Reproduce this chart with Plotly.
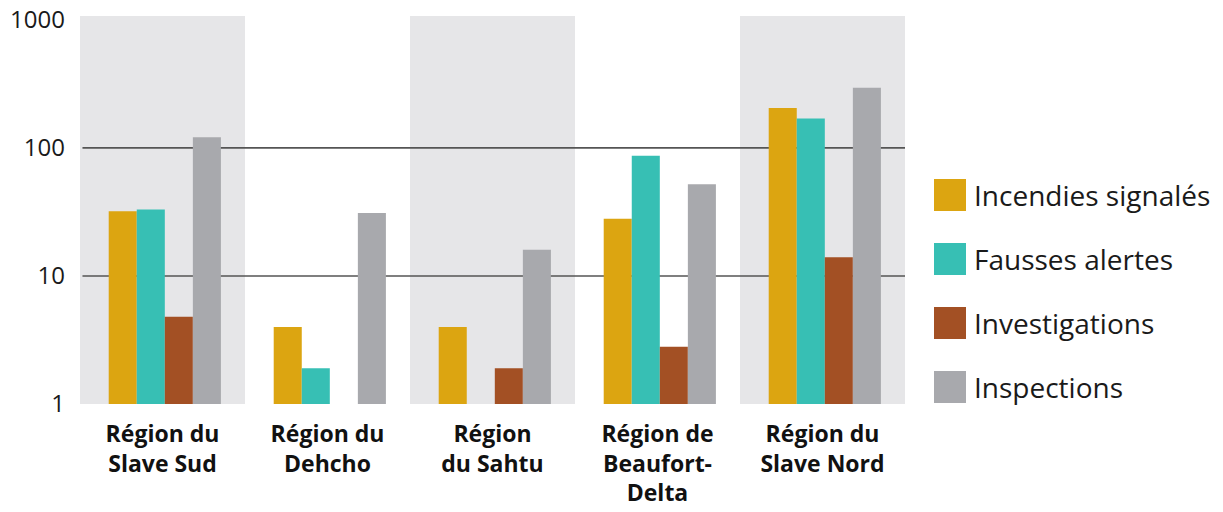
import plotly.graph_objects as go

# regions (x categories) and the four series
regions = [
    "Région du<br>Slave Sud",
    "Région du<br>Dehcho",
    "Région<br>du Sahtu",
    "Région de<br>Beaufort-<br>Delta",
    "Région du<br>Slave Nord",
]
series_names = ["Incendies signalés", "Fausses alertes", "Investigations", "Inspections"]
incendies = [32, 4, 4, 28, 205]
fausses_alertes = [33, 1.9, None, 87, 170]
investigations = [4.8, None, 1.9, 2.8, 14]
inspections = [121, 31, 16, 52, 295]
colors = ["#DCA511", "#37BFB4", "#A35024", "#A8A9AD"]

y_ticks = [1, 10, 100, 1000]
grid_at = [10, 100]

FONT = "Open Sans"
W, H = 1223, 512
# plot box on screen: x 80..905, y 16..404
L, T = 80, 16
PW, PH = 825, 388
R = W - L - PW
B = H - T - PH

BAR_W = 0.17
FIRST = -0.326


def px(x):
    return (x - L) / PW


def py(y):
    return (T + PH - y) / PH


fig = go.Figure()
for k, (name, vals, col) in enumerate(zip(series_names,
                                          [incendies, fausses_alertes, investigations, inspections],
                                          colors)):
    fig.add_trace(go.Bar(
        x=regions, y=vals, name=name,
        width=BAR_W, offset=FIRST + k * BAR_W,
        marker=dict(color=col, line=dict(width=0)),
        showlegend=False,
    ))

shapes = []
# shaded bands behind every other region
for i in range(0, len(regions), 2):
    shapes.append(dict(type="rect", xref="x", yref="paper",
                       x0=i - 0.5, x1=i + 0.5, y0=0, y1=1,
                       fillcolor="#E6E6E8", line=dict(width=0), layer="below"))
# horizontal rules at 10 and 100
for g in grid_at:
    shapes.append(dict(type="line", xref="paper", yref="y",
                       x0=0.003, x1=1, y0=g, y1=g,
                       line=dict(color="#555555", width=1.6), layer="below"))

# hand made legend with big squares
annotations = []
for k, (name, col) in enumerate(zip(series_names, colors)):
    cy = 195 + 64 * k
    shapes.append(dict(type="rect", xref="paper", yref="paper",
                       x0=px(934), x1=px(966),
                       y0=py(cy + 16), y1=py(cy - 16),
                       fillcolor=col, line=dict(width=0)))
    annotations.append(dict(xref="paper", yref="paper",
                            x=px(972), y=py(cy),
                            text=name, showarrow=False,
                            xanchor="left", yanchor="middle",
                            font=dict(family=FONT, size=28, color="#1a1a1a")))

fig.update_layout(
    width=W, height=H,
    margin=dict(l=L, r=R, t=T, b=B),
    paper_bgcolor="white", plot_bgcolor="white",
    barmode="overlay",
    shapes=shapes, annotations=annotations,
    font=dict(family=FONT, color="#1a1a1a"),
)
fig.update_xaxes(
    tickfont=dict(family=FONT, size=23, color="#111111", weight="bold"),
    showgrid=False, showline=False, zeroline=False,
    ticks="outside", ticklen=9, tickcolor="rgba(0,0,0,0)",
    automargin=False,
)
fig.update_yaxes(
    type="log", range=[0, 3.03],
    tickvals=y_ticks, ticktext=[str(v) for v in y_ticks],
    tickfont=dict(family=FONT, size=24, color="#1a1a1a"),
    showgrid=False, showline=False, zeroline=False,
    ticklabelstandoff=14, automargin=False,
    ticklabeloverflow="allow",
)

# drop the default 8px page margin so the figure sits at the window corner
fig.write_html("out.html", config={"displayModeBar": False},
               post_script="document.body.style.margin='0';")
